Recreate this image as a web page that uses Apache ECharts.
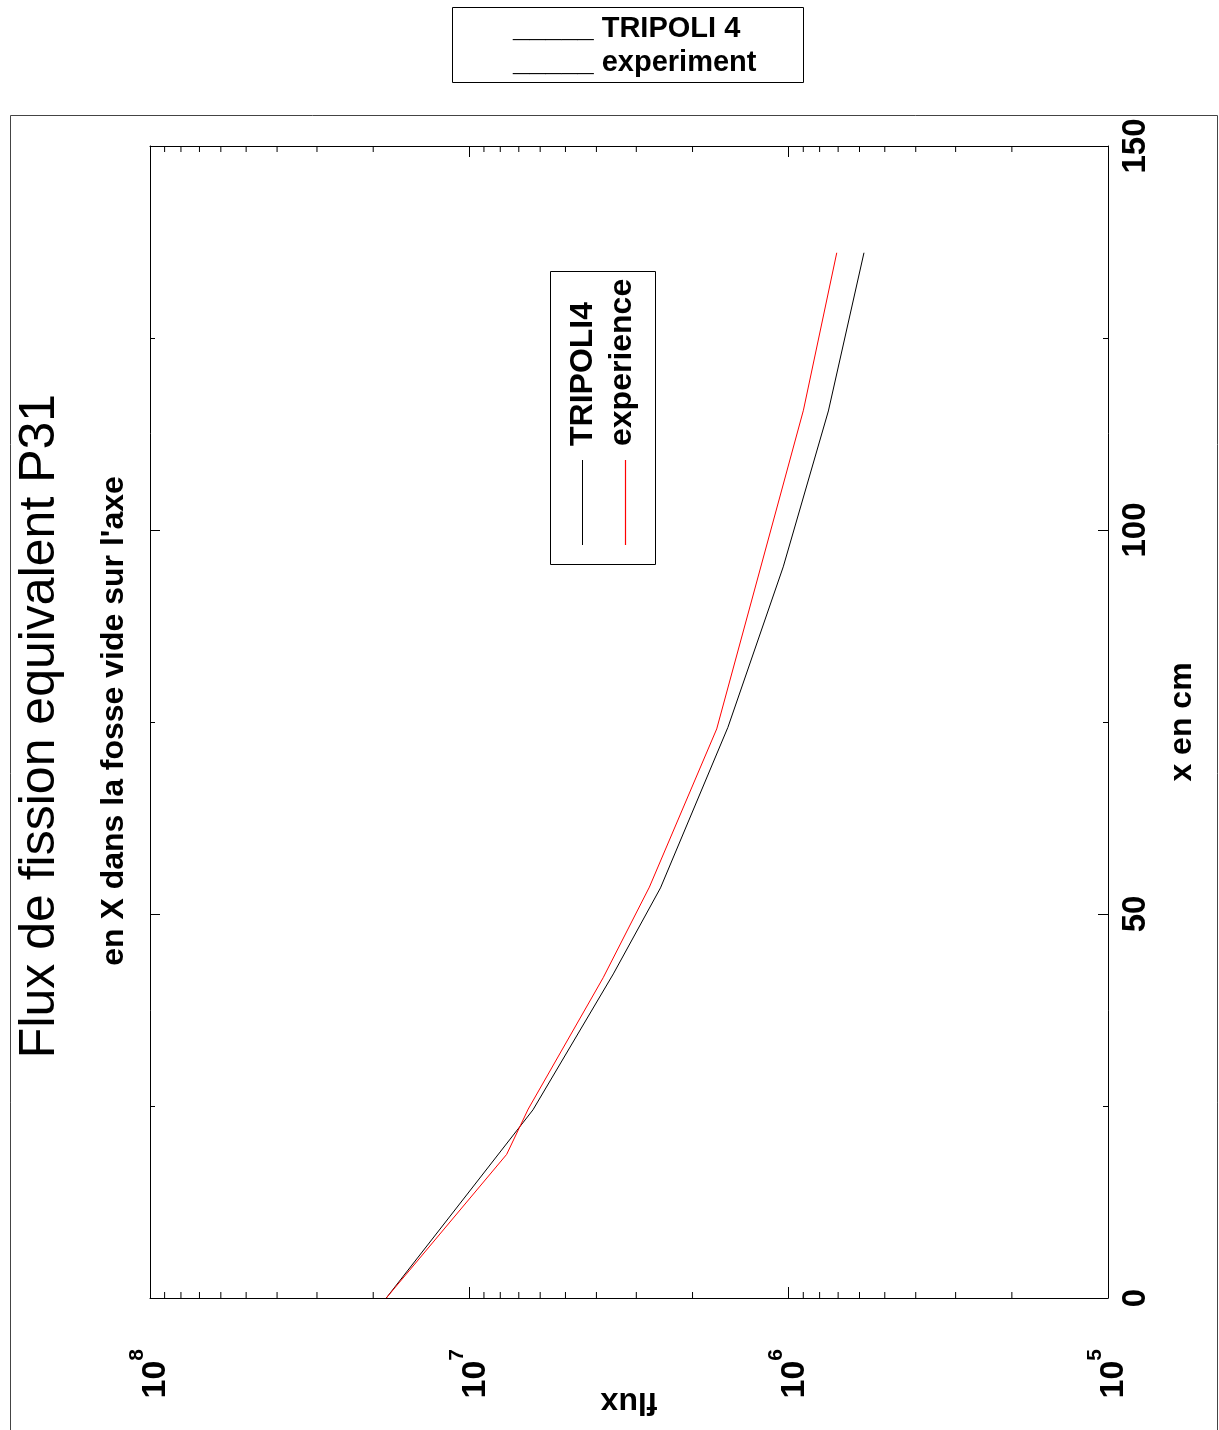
<!DOCTYPE html>
<html>
<head>
<meta charset="utf-8">
<title>Flux de fission equivalent P31</title>
<script src="https://cdn.jsdelivr.net/npm/echarts@6.0.0/dist/echarts.min.js"></script>
<style>
  html, body { margin: 0; padding: 0; background: #fff; }
  #chart { width: 1219px; height: 1430px; }
</style>
</head>
<body>
<div id="chart"></div>
<script>
// x position along the pit (cm) and fission flux
var tripoliCm = [0, 24.5, 42.2, 53.4, 74.3, 95.2, 115.5, 136.1];
var tripoliFlux = [1.82e7, 6.32e6, 3.54e6, 2.52e6, 1.55e6, 1.04e6, 7.51e5, 5.81e5];
var experienceCm = [0, 18.7, 24.6, 41.7, 53.5, 74.1, 115.6, 136.1];
var experienceFlux = [1.82e7, 7.64e6, 6.54e6, 3.81e6, 2.73e6, 1.68e6, 8.99e5, 7.07e5];

// minor ticks of the log flux axis
var fluxMinorTicks = [
  2e5, 3e5, 4e5, 5e5, 6e5, 7e5, 8e5, 9e5,
  2e6, 3e6, 4e6, 5e6, 6e6, 7e6, 8e6, 9e6,
  2e7, 3e7, 4e7, 5e7, 6e7, 7e7, 8e7, 9e7
];

var seriesNames = ['TRIPOLI4', 'experience'];
var titleText = 'Flux de fission equivalent P31';
var subtitleText = "en X dans la fosse vide sur l'axe";

var font = "'Liberation Sans', Arial, Helvetica, sans-serif";
var chart = echarts.init(document.getElementById('chart'));

function pairs(cm, flux) {
  return cm.map(function (c, i) { return [flux[i], c]; });
}

var logAxisBase = {
  type: 'log',
  logBase: 10,
  min: 1e5,
  max: 1e8,
  inverse: true,
  axisLine: { onZero: false, lineStyle: { color: '#000', width: 1 } },
  axisTick: { inside: true, length: 11, lineStyle: { color: '#000', width: 1 } },
  splitLine: { show: false }
};

var cmAxisBase = {
  type: 'value',
  min: 0,
  max: 150,
  interval: 50,
  axisLine: { onZero: false, lineStyle: { color: '#000', width: 1 } },
  axisTick: { inside: true, length: 10, lineStyle: { color: '#000', width: 1 } },
  minorTick: { show: true, splitNumber: 2, length: 5, lineStyle: { color: '#000', width: 1 } },
  splitLine: { show: false }
};

chart.setOption({
  animation: false,
  backgroundColor: '#fff',
  grid: { left: 150, right: 111, top: 146, bottom: 132, containLabel: false, outerBoundsMode: 'none' },
  xAxis: [
    Object.assign({}, logAxisBase, {
      position: 'bottom',
      name: 'flux',
      nameLocation: 'middle',
      nameRotate: 180,
      nameGap: 88,
      nameMoveOverlap: false,
      nameTextStyle: { fontFamily: font, fontSize: 32, fontWeight: 'bold', color: '#000' },
      axisLabel: {
        rotate: 90,
        margin: 51,
        formatter: function (v) {
          var e = Math.round(Math.log(v) / Math.LN10);
          return '{b|10}{s|' + e + '}';
        },
        rich: {
          b: { fontFamily: font, fontSize: 34, fontWeight: 'bold', color: '#000', lineHeight: 46, verticalAlign: 'bottom' },
          s: { fontFamily: font, fontSize: 21, fontWeight: 'bold', color: '#000', lineHeight: 21, verticalAlign: 'top' }
        }
      }
    }),
    Object.assign({}, logAxisBase, {
      position: 'top',
      axisLabel: { show: false }
    })
  ],
  yAxis: [
    Object.assign({}, cmAxisBase, {
      position: 'right',
      name: 'x en cm',
      nameLocation: 'middle',
      nameRotate: 90,
      nameGap: 58,
      nameMoveOverlap: false,
      nameTextStyle: { fontFamily: font, fontSize: 32, fontWeight: 'bold', color: '#000' },
      axisLabel: { rotate: 90, margin: 11, fontFamily: font, fontSize: 33, fontWeight: 'bold', color: '#000' }
    }),
    Object.assign({}, cmAxisBase, {
      position: 'left',
      axisLabel: { show: false }
    })
  ],
  series: [
    {
      name: seriesNames[0],
      type: 'line',
      xAxisIndex: 0,
      yAxisIndex: 0,
      symbol: 'none',
      lineStyle: { color: '#000', width: 1 },
      data: pairs(tripoliCm, tripoliFlux)
    },
    {
      name: seriesNames[1],
      type: 'line',
      xAxisIndex: 0,
      yAxisIndex: 0,
      symbol: 'none',
      lineStyle: { color: '#ff0000', width: 1 },
      data: pairs(experienceCm, experienceFlux)
    },
    {
      // minor log ticks, inside, on bottom and top frame
      type: 'custom',
      xAxisIndex: 0,
      yAxisIndex: 0,
      silent: true,
      clip: false,
      data: fluxMinorTicks.map(function (v) { return [v, 0]; }),
      renderItem: function (params, api) {
        var v = api.value(0);
        var b = api.coord([v, 0]);
        var t = api.coord([v, 150]);
        var st = { stroke: '#000', lineWidth: 1 };
        return {
          type: 'group',
          children: [
            { type: 'line', shape: { x1: b[0], y1: b[1], x2: b[0], y2: b[1] - 6 }, style: st },
            { type: 'line', shape: { x1: t[0], y1: t[1], x2: t[0], y2: t[1] + 6 }, style: st }
          ]
        };
      }
    }
  ],
  graphic: [
    // outer frame
    { type: 'rect', z: -1, shape: { x: 10.5, y: 115.5, width: 1207, height: 1340 },
      style: { fill: 'none', stroke: '#444', lineWidth: 1 } },
    // top legend
    { type: 'rect', shape: { x: 452.5, y: 7.5, width: 351, height: 75 },
      style: { fill: '#fff', stroke: '#000', lineWidth: 1 } },
    { type: 'text', x: 513, y: 29,
      style: { text: '{u|_____} TRIPOLI 4', fontFamily: font, fontSize: 29, fontWeight: 'bold', fill: '#000',
        align: 'left', verticalAlign: 'middle', textAlign: 'left', textVerticalAlign: 'middle',
        rich: { u: { fontFamily: font, fontSize: 29, fontWeight: 'bold', color: '#555' } } } },
    { type: 'text', x: 513, y: 63,
      style: { text: '{u|_____} experiment', fontFamily: font, fontSize: 29, fontWeight: 'bold', fill: '#000',
        align: 'left', verticalAlign: 'middle', textAlign: 'left', textVerticalAlign: 'middle',
        rich: { u: { fontFamily: font, fontSize: 29, fontWeight: 'bold', color: '#555' } } } },
    // rotated title and subtitle
    { type: 'text', x: 40, y: 726, rotation: Math.PI / 2,
      style: { text: titleText, fontFamily: font, fontSize: 50, fill: '#000',
        align: 'center', verticalAlign: 'middle', textAlign: 'center', textVerticalAlign: 'middle' } },
    { type: 'text', x: 114, y: 721, rotation: Math.PI / 2,
      style: { text: subtitleText, fontFamily: font, fontSize: 32, fontWeight: 'bold', fill: '#000',
        align: 'center', verticalAlign: 'middle', textAlign: 'center', textVerticalAlign: 'middle' } },
    // inner legend (rotated)
    { type: 'rect', shape: { x: 550.5, y: 271.5, width: 105, height: 293 },
      style: { fill: '#fff', stroke: '#000', lineWidth: 1 } },
    { type: 'line', shape: { x1: 582.5, y1: 460, x2: 582.5, y2: 545 }, style: { stroke: '#000', lineWidth: 1 } },
    { type: 'line', shape: { x1: 625.5, y1: 460, x2: 625.5, y2: 545 }, style: { stroke: '#ff0000', lineWidth: 1.2 } },
    { type: 'text', x: 583, y: 446, rotation: Math.PI / 2,
      style: { text: seriesNames[0], fontFamily: font, fontSize: 32, fontWeight: 'bold', fill: '#000',
        align: 'left', verticalAlign: 'middle', textAlign: 'left', textVerticalAlign: 'middle' } },
    { type: 'text', x: 622, y: 446, rotation: Math.PI / 2,
      style: { text: seriesNames[1], fontFamily: font, fontSize: 32, fontWeight: 'bold', fill: '#000',
        align: 'left', verticalAlign: 'middle', textAlign: 'left', textVerticalAlign: 'middle' } }
  ]
});
</script>
</body>
</html>
